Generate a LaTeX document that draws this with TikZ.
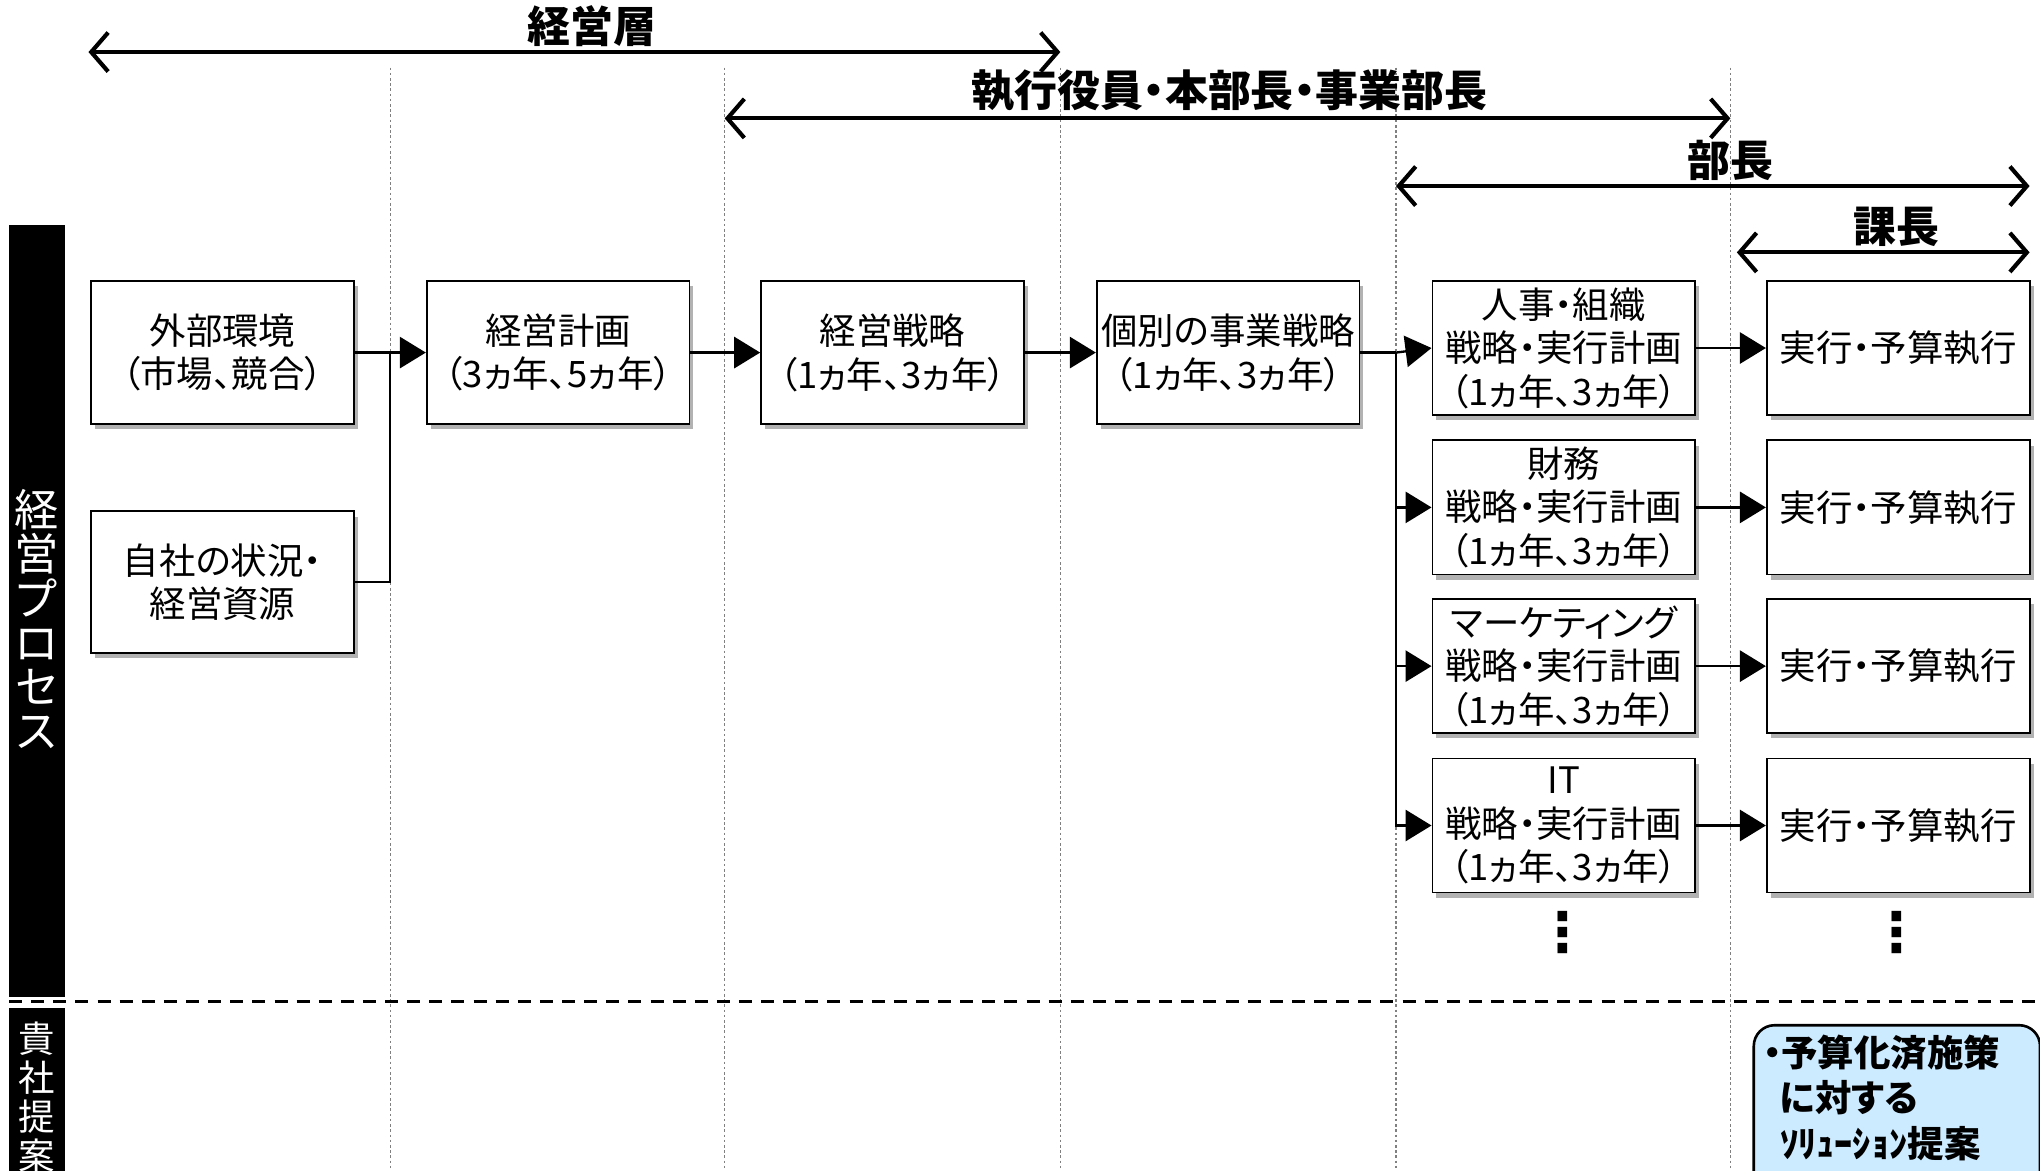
\documentclass[tikz,border=0pt]{standalone}
\usepackage{fontspec}
\setmainfont{Noto Sans CJK JP}[RawFeature={+palt}]
\newfontfamily\symfont{DejaVu Sans}
\usetikzlibrary{arrows.meta,shadows}
\definecolor{lblue}{HTML}{CCEBFF}
\begin{document}
\begin{tikzpicture}[x=1pt,y=-1pt,
  box/.style={draw=black, line width=1.4pt, fill=white, minimum width=202pt, inner sep=1pt, align=center,
    font=\fontsize{28}{33.5}\selectfont,
    drop shadow={shadow xshift=3pt, shadow yshift=-4pt, opacity=0.3, fill=black}},
  conn/.style={line width=1.8pt, -{Triangle[length=20pt,width=24pt]}},
  plainln/.style={line width=1.8pt},
  harr/.style={line width=3.2pt, {Straight Barb[length=13pt,width=30pt]}-{Straight Barb[length=13pt,width=30pt]}},
  hlabel/.style={font=\bfseries\fontsize{33}{36}\selectfont},
  vline/.style={gray, line width=1pt, dash pattern=on 2pt off 2pt},
  vdots/.style={font=\symfont\bfseries\fontsize{42}{42}\selectfont, inner sep=0pt}
]
\useasboundingbox (0,0) rectangle (1568,900);
% dotted column lines
\foreach \xx/\nm in {300/v1,557/v2,815/v3,1073/v4,1330/v5}{
  \coordinate (\nm t) at (\xx,52);
  \coordinate (\nm b) at (\xx,905);
  \draw[vline] (\nm t) -- (\nm b);
}
% header arrows
\coordinate (a1l) at (68,40);   \coordinate (a1r) at (815,40);
\coordinate (a2l) at (557,91);  \coordinate (a2r) at (1330,91);
\coordinate (a3l) at (1073,143);\coordinate (a3r) at (1560,143);
\coordinate (a4l) at (1335,194);\coordinate (a4r) at (1560,194);
\draw[harr] (a1l) -- (a1r);
\draw[harr] (a2l) -- (a2r);
\draw[harr] (a3l) -- (a3r);
\draw[harr] (a4l) -- (a4r);
\node[hlabel] (l1) at (455,20) {経営層};
\node[hlabel] (l2) at (945,70) {執行役員・本部長・事業部長};
\node[hlabel] (l3) at (1330,123) {部長};
\node[hlabel] (l4) at (1458,174) {課長};
% side bars
\fill[black] (7,173) rectangle (50,766);
\fill[black] (7,775) rectangle (50,910);
\node[text=white, align=center, inner sep=0pt, font=\fontsize{34}{34}\selectfont] (side1) at (28,476) {経\\営\\プ\\ロ\\セ\\ス};
\node[text=white, align=center, inner sep=0pt, anchor=north, font=\fontsize{28}{30}\selectfont] (side2) at (28,785) {貴\\社\\提\\案};
% separator
\coordinate (sepl) at (7,770); \coordinate (sepr) at (1568,770);
\draw[line width=2.5pt, dash pattern=on 10pt off 7pt] (sepl) -- (sepr);
% boxes
\node[box, minimum height=110pt] (gaibu) at (171,271) {外部環境\\（市場、競合）};
\node[box, minimum height=109pt] (jisha) at (171,447.5) {自社の状況・\\経営資源};
\node[box, minimum height=110pt] (keikaku) at (429,271) {経営計画\\（3ヵ年、5ヵ年）};
\node[box, minimum height=110pt] (senryaku) at (686,271) {経営戦略\\（1ヵ年、3ヵ年）};
\node[box, minimum height=110pt] (kobetsu) at (944,271) {個別の事業戦略\\（1ヵ年、3ヵ年）};
\node[box, minimum height=103pt] (jinji) at (1202,267.5) {人事・組織\\戦略・実行計画\\（1ヵ年、3ヵ年）};
\node[box, minimum height=103pt] (zaimu) at (1202,390) {財務\\戦略・実行計画\\（1ヵ年、3ヵ年）};
\node[box, minimum height=103pt] (mkt) at (1202,512) {マーケティング\\戦略・実行計画\\（1ヵ年、3ヵ年）};
\node[box, minimum height=103pt] (it) at (1202,634.5) {IT\\戦略・実行計画\\（1ヵ年、3ヵ年）};
\node[box, minimum height=103pt] (ex1) at (1459,267.5) {実行・予算執行};
\node[box, minimum height=103pt] (ex2) at (1459,390) {実行・予算執行};
\node[box, minimum height=103pt] (ex3) at (1459,512) {実行・予算執行};
\node[box, minimum height=103pt] (ex4) at (1459,634.5) {実行・予算執行};
% dots
\node[vdots] (dots1) at (1201,717) {⋮};
\node[vdots] (dots2) at (1458,717) {⋮};
% connectors
\coordinate (j1) at (300,271);
\draw[plainln] (gaibu.east) -- (j1);
\draw[plainln] (jisha.east) -| (j1);
\draw[conn] (j1) -- (keikaku.west);
\draw[conn] (keikaku.east) -- (senryaku.west);
\draw[conn] (senryaku.east) -- (kobetsu.west);
\coordinate (j2) at (1073,271);
\draw[plainln] (kobetsu.east) -- (j2);
\draw[conn] (j2) -- (jinji.west);
\draw[conn] (j2) |- (zaimu.west);
\draw[conn] (j2) |- (mkt.west);
\draw[conn] (j2) |- (it.west);
\draw[conn] (jinji.east) -- (ex1.west);
\draw[conn] (zaimu.east) -- (ex2.west);
\draw[conn] (mkt.east) -- (ex3.west);
\draw[conn] (it.east) -- (ex4.west);
% proposal box
\node[draw=black, line width=2pt, fill=lblue, rounded corners=16pt, minimum width=220pt, minimum height=150pt, anchor=north west, inner sep=0pt] (prop) at (1347,787) {};
\node[anchor=north west, align=left, inner sep=0pt, font=\bfseries\fontsize{28}{35}\selectfont] (propt) at (1355,795) {・予算化済施策\\\hspace{13pt}に対する\\\hspace{13pt}ｿﾘｭｰｼｮﾝ提案};
\end{tikzpicture}
\end{document}
